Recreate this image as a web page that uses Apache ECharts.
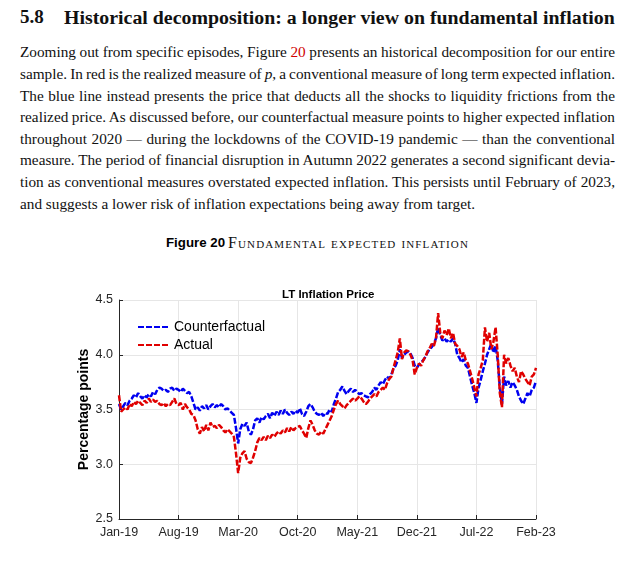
<!DOCTYPE html>
<html>
<head>
<meta charset="utf-8">
<script src="https://cdn.jsdelivr.net/npm/echarts@6/dist/echarts.min.js"></script>
<style>
html,body{margin:0;padding:0;background:#fff;}
#page{position:relative;width:635px;height:578px;overflow:hidden;font-family:"Liberation Serif","Times New Roman",serif;color:#111;}
.tnum,.ttxt{position:absolute;top:5px;font-weight:bold;white-space:nowrap;line-height:24px;font-size:19px;}
.tnum{left:20px;}
.ttxt{left:64px;}
.ln{position:absolute;left:20px;white-space:nowrap;font-size:14px;line-height:20px;}
.ln span.t{display:inline-block;white-space:nowrap;}
.red{color:#d00000;}
.cap{position:absolute;top:234px;white-space:nowrap;line-height:18px;display:inline-block;}
.capA{left:166px;font-family:"Liberation Sans",Arial,sans-serif;font-weight:bold;font-size:13.3px;color:#000;}
.capB{left:228px;font-variant:small-caps;font-size:16px;}
#chart{position:absolute;left:0;top:270px;width:635px;height:308px;}
</style>
</head>
<body>
<div id="page">
  <div class="tnum">5.8</div>
  <div class="ttxt" id="ttxt">Historical decomposition: a longer view on fundamental inflation</div>

  <div class="ln" style="top:42px"><span class="t fit">Zooming out from specific episodes, Figure <span class="red">20</span> presents an historical decomposition for our entire</span></div>
  <div class="ln" style="top:64px"><span class="t fit">sample. In red is the realized measure of <i>p</i>, a conventional measure of long term expected inflation.</span></div>
  <div class="ln" style="top:86px"><span class="t fit">The blue line instead presents the price that deducts all the shocks to liquidity frictions from the</span></div>
  <div class="ln" style="top:107px"><span class="t fit">realized price. As discussed before, our counterfactual measure points to higher expected inflation</span></div>
  <div class="ln" style="top:129px"><span class="t fit">throughout 2020 — during the lockdowns of the COVID-19 pandemic — than the conventional</span></div>
  <div class="ln" style="top:150px"><span class="t fit">measure. The period of financial disruption in Autumn 2022 generates a second significant devia-</span></div>
  <div class="ln" style="top:172px"><span class="t fit">tion as conventional measures overstated expected inflation. This persists until February of 2023,</span></div>
  <div class="ln" style="top:194px"><span class="t" id="lastln">and suggests a lower risk of inflation expectations being away from target.</span></div>

  <div class="cap capA">Figure 20</div>
  <div class="cap capB" id="capB">Fundamental expected inflation</div>

  <div id="chart"></div>
</div>
<script>
// ---------- text fitting (simulates LaTeX justification) ----------
(function(){
  var FULL = 595;
  var lines = Array.prototype.slice.call(document.querySelectorAll('.fit'));
  var base = 14, sum = 0;
  lines.forEach(function(el){ sum += el.getBoundingClientRect().width; });
  var fs = base * FULL / (sum / lines.length);
  lines.concat([document.getElementById('lastln')]).forEach(function(el){ el.parentNode.style.fontSize = fs + 'px'; });
  lines.forEach(function(el){
    var w = el.getBoundingClientRect().width;
    var n = (el.textContent.match(/ /g) || []).length;
    el.style.wordSpacing = ((FULL - w) / n) + 'px';
  });
  var last = document.getElementById('lastln');
  var lw = last.getBoundingClientRect().width;
  var ln = (last.textContent.match(/ /g) || []).length;
  last.style.wordSpacing = ((455 - lw) / ln) + 'px';

  var tt = document.getElementById('ttxt');
  var tw = tt.getBoundingClientRect().width;
  tt.style.fontSize = (19 * 551 / tw) + 'px';

  var cb = document.getElementById('capB');
  var cw = cb.getBoundingClientRect().width;
  cb.style.letterSpacing = ((241 - cw) / cb.textContent.length) + 'px';
})();

// ---------- chart data ----------
var tickLabels = ['Jan-19','Aug-19','Mar-20','Oct-20','May-21','Dec-21','Jul-22','Feb-23'];
var pointsPerMonth = 4; // weekly readings, Jan-2019 .. Feb-2023

var counterfactual = [
  3.55,3.50,3.53,3.56, 3.54,3.58,3.60,3.63, 3.61,3.65,3.62,3.60, 3.63,3.61,3.64,3.62,
  3.66,3.64,3.68,3.70, 3.69,3.67,3.68,3.66, 3.69,3.70,3.67,3.69, 3.68,3.66,3.69,3.67,
  3.65,3.66,3.62,3.56, 3.50,3.52,3.49,3.53, 3.51,3.54,3.50,3.53, 3.55,3.52,3.54,3.52,
  3.55,3.53,3.50,3.51, 3.49,3.47,3.45,3.33, 3.19,3.32,3.37,3.35, 3.38,3.30,3.27,3.32,
  3.40,3.42,3.38,3.43, 3.41,3.44,3.46,3.42, 3.47,3.44,3.48,3.45, 3.49,3.46,3.50,3.47,
  3.45,3.48,3.46,3.49, 3.47,3.51,3.46,3.44, 3.48,3.53,3.55,3.52, 3.48,3.46,3.45,3.47,
  3.44,3.47,3.46,3.50, 3.48,3.55,3.60,3.66, 3.68,3.71,3.67,3.64, 3.67,3.69,3.66,3.68,
  3.66,3.64,3.65,3.63, 3.62,3.61,3.64,3.66, 3.70,3.68,3.72,3.75, 3.73,3.77,3.80,3.78,
  3.82,3.87,3.90,3.95, 4.05,3.97,4.00,4.02, 4.03,4.01,3.97,3.90, 3.88,3.91,3.93,3.95,
  3.98,4.02,4.05,4.07, 4.10,4.15,4.25,4.18, 4.13,4.15,4.12,4.14, 4.12,4.15,4.10,4.00,
  3.97,3.93,3.96,3.90, 3.88,3.80,3.72,3.65, 3.56,3.70,3.77,3.85, 3.92,4.00,4.05,4.10,
  4.02,4.08,3.95,3.70, 3.55,3.80,3.72,3.76, 3.70,3.75,3.72,3.68, 3.62,3.58,3.55,3.60,
  3.65,3.62,3.68,3.70, 3.76
];

var actual = [
  3.63,3.48,3.50,3.52, 3.50,3.55,3.53,3.57, 3.55,3.58,3.56,3.54, 3.58,3.56,3.60,3.57,
  3.59,3.57,3.58,3.55, 3.54,3.56,3.53,3.55, 3.54,3.57,3.60,3.55, 3.54,3.56,3.50,3.55,
  3.52,3.50,3.46,3.45, 3.40,3.32,3.28,3.34, 3.30,3.36,3.31,3.38, 3.34,3.35,3.33,3.36,
  3.34,3.31,3.29,3.32, 3.30,3.28,3.25,3.10, 2.92,3.06,3.10,3.12, 3.05,3.02,3.01,3.06,
  3.12,3.20,3.24,3.22, 3.25,3.22,3.26,3.24, 3.27,3.25,3.28,3.30, 3.28,3.31,3.29,3.33,
  3.30,3.34,3.31,3.33, 3.34,3.35,3.31,3.28, 3.24,3.33,3.40,3.36, 3.31,3.28,3.27,3.30,
  3.28,3.32,3.36,3.40, 3.44,3.50,3.55,3.58, 3.55,3.53,3.51,3.54, 3.56,3.58,3.60,3.58,
  3.60,3.62,3.60,3.57, 3.55,3.57,3.60,3.62, 3.64,3.62,3.66,3.68, 3.70,3.68,3.74,3.78,
  3.80,3.88,3.95,4.02, 4.15,3.96,4.02,4.04, 4.03,4.00,3.95,3.82, 3.88,3.92,3.90,3.95,
  3.98,4.03,4.06,4.10, 4.08,4.15,4.38,4.20, 4.15,4.22,4.18,4.24, 4.15,4.20,4.10,4.08,
  4.05,3.98,4.02,3.95, 3.92,3.85,3.78,3.70, 3.62,3.82,3.88,3.95, 4.25,4.12,4.20,4.05,
  4.12,4.25,4.00,3.65, 3.52,4.00,3.92,3.97, 3.90,3.85,3.88,3.80, 3.75,3.85,3.82,3.78,
  3.75,3.72,3.80,3.82, 3.88
];

function toXY(arr){ return arr.map(function(v,i){ return [i / pointsPerMonth, v]; }); }

var axisColor = '#262626';
var gridColor = '#e6e6e6';
var sans = '"Liberation Sans", Arial, Helvetica, sans-serif';

var chart = echarts.init(document.getElementById('chart'), null, {renderer:'canvas'});
chart.setOption({
  animation: false,
  textStyle: {fontFamily: sans},
  title: {
    text: 'LT Inflation Price',
    left: 277, top: 14,
    textStyle: {fontSize: 11.5, fontWeight: 'bold', color: '#000', fontFamily: sans}
  },
  legend: {
    data: ['Counterfactual','Actual'],
    orient: 'vertical',
    left: 137, top: 50, padding: 0,
    itemWidth: 31, itemHeight: 14, itemGap: 4,
    itemStyle: {opacity: 0, borderWidth: 0},
    textStyle: {fontSize: 14, color: '#000', fontFamily: sans}
  },
  grid: {left: 119, top: 30, width: 417, height: 219, containLabel: false},
  xAxis: {
    type: 'value', min: 0, max: 49, interval: 7,
    axisLine: {show: true, onZero: false, lineStyle: {color: axisColor, width: 1}},
    axisTick: {show: true, inside: true, length: 4, lineStyle: {color: axisColor}},
    axisLabel: {
      margin: 7, fontSize: 12.5, color: axisColor, fontFamily: sans,
      formatter: function(v){ return tickLabels[Math.round(v / 7)] || ''; }
    },
    splitLine: {show: true, lineStyle: {color: gridColor, width: 1}}
  },
  yAxis: {
    type: 'value', min: 2.5, max: 4.5, interval: 0.5,
    name: 'Percentage points', nameLocation: 'middle', nameGap: 28, nameMoveOverlap: false,
    nameTextStyle: {fontSize: 14, fontWeight: 'bold', color: '#000', fontFamily: sans},
    axisLine: {show: true, onZero: false, lineStyle: {color: axisColor, width: 1}},
    axisTick: {show: true, inside: true, length: 4, lineStyle: {color: axisColor}},
    axisLabel: {
      margin: 6, fontSize: 12.5, color: axisColor, fontFamily: sans,
      formatter: function(v){ return v.toFixed(1); }
    },
    splitLine: {show: true, lineStyle: {color: gridColor, width: 1}}
  },
  series: [
    {
      name: 'Counterfactual', type: 'line', data: toXY(counterfactual),
      symbol: 'none', smooth: false,
      lineStyle: {color: '#0000f0', width: 2.5, type: [6, 2]},
      itemStyle: {color: '#0000f0'}
    },
    {
      name: 'Actual', type: 'line', data: toXY(actual),
      symbol: 'none', smooth: false,
      lineStyle: {color: '#e00000', width: 2.5, type: [6, 2]},
      itemStyle: {color: '#e00000'}
    }
  ]
});
</script>
</body>
</html>
